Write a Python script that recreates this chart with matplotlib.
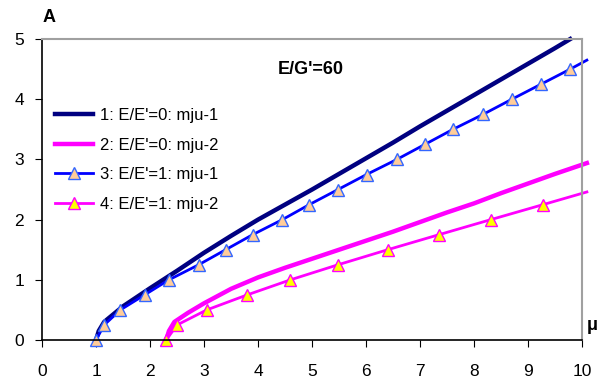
import matplotlib.pyplot as plt

plt.rcParams['font.family'] = ['Liberation Sans', 'DejaVu Sans']

# 1: E/E'=0: mju-1
mu1 = [1.0, 1.05, 1.15, 1.5, 2.0, 2.5, 3.0, 3.5, 4.0, 4.5, 5.0, 5.5, 6.0, 6.5, 7.0, 7.5, 8.0, 8.5, 9.0, 9.5, 9.78]
a1 = [0.0, 0.15, 0.3, 0.56, 0.86, 1.15, 1.45, 1.73, 2.0, 2.25, 2.5, 2.76, 3.02, 3.28, 3.55, 3.81, 4.07, 4.33, 4.59, 4.85, 5.0]

# 2: E/E'=0: mju-2
mu2 = [2.3, 2.35, 2.45, 2.7, 3.0, 3.5, 4.0, 4.5, 5.0, 5.5, 6.0, 6.5, 7.0, 7.5, 8.0, 8.5, 9.0, 9.5, 10.09]
a2 = [0.0, 0.15, 0.3, 0.45, 0.61, 0.85, 1.04, 1.2, 1.35, 1.5, 1.65, 1.8, 1.96, 2.12, 2.27, 2.44, 2.6, 2.76, 2.94]

# 3: E/E'=1: mju-1 (markers)
mu3 = [1.0, 1.15, 1.45, 1.9, 2.35, 2.9, 3.4, 3.9, 4.45, 4.95, 5.48, 6.01, 6.57, 7.09, 7.61, 8.17, 8.7, 9.24, 9.78]
a3 = [0.0, 0.25, 0.5, 0.75, 1.0, 1.25, 1.5, 1.75, 2.0, 2.25, 2.5, 2.75, 3.0, 3.25, 3.5, 3.75, 4.0, 4.25, 4.5]
mu3_end = 10.09
a3_end = 4.65

# 4: E/E'=1: mju-2 (markers)
mu4 = [2.3, 2.5, 3.05, 3.8, 4.6, 5.48, 6.4, 7.35, 8.31, 9.28]
a4 = [0.0, 0.25, 0.5, 0.75, 1.0, 1.25, 1.5, 1.75, 2.0, 2.25]
mu4_end = 10.09
a4_end = 2.46

fig = plt.figure(figsize=(6.03, 3.87), dpi=100)
ax = fig.add_axes([0.0697, 0.1214, 0.8955, 0.7776])

ax.plot(mu1, a1, color='#000080', lw=3.2, clip_on=False, label="1: E/E'=0: mju-1")
ax.plot(mu2, a2, color='#FF00FF', lw=3.2, clip_on=False, label="2: E/E'=0: mju-2")
ax.plot(mu3 + [mu3_end], a3 + [a3_end], color='#0000FF', lw=2, clip_on=False,
        marker='^', markevery=list(range(len(mu3))), ms=9,
        mfc='#FFCC99', mec='#3366FF', mew=1, label="3: E/E'=1: mju-1")
ax.plot(mu4 + [mu4_end], a4 + [a4_end], color='#FF00FF', lw=2, clip_on=False,
        marker='^', markevery=list(range(len(mu4))), ms=9,
        mfc='#FFFF00', mec='#FF00FF', mew=1, label="4: E/E'=1: mju-2")

ax.set_xlim(0, 10)
ax.set_ylim(0, 5)
ax.set_xticks(range(0, 11))
ax.set_yticks(range(0, 6))
ax.tick_params(labelsize=12.5, length=5, direction='out', pad=8)
ax.tick_params(axis='x', pad=12)
for s in ['top', 'right']:
    ax.spines[s].set_color('#A0A0A0')
    ax.spines[s].set_linewidth(1.5)
for s in ['left', 'bottom']:
    ax.spines[s].set_color('black')
    ax.spines[s].set_linewidth(1.2)

ax.text(0.498, 0.9, "E/G'=60", transform=ax.transAxes, fontsize=13,
        fontweight='bold', ha='center', va='center')
fig.text(43 / 603, 1 - 17 / 387, 'A', fontsize=13, fontweight='bold',
         ha='left', va='center')
fig.text(587 / 603, 1 - 325 / 387, 'μ', fontsize=13, fontweight='bold',
         ha='left', va='center')

ax.legend(loc='upper left', bbox_to_anchor=(55 / 603, 1 - 108 / 387),
          bbox_transform=fig.transFigure, frameon=False, fontsize=12,
          handlelength=2.3, handletextpad=0.4, labelspacing=0.88,
          borderaxespad=0, borderpad=0)

fig.savefig('out.png', dpi=100)
